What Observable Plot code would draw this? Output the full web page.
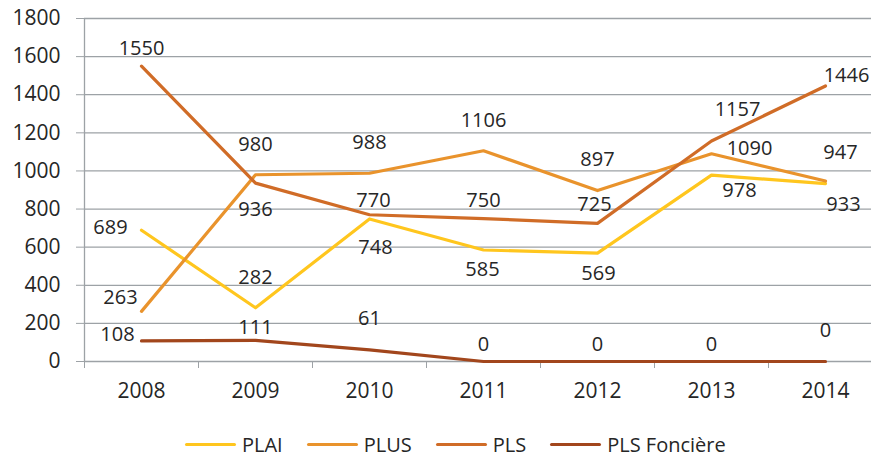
<!DOCTYPE html>
<html>
<head>
<meta charset="utf-8">
<script src="https://cdn.jsdelivr.net/npm/d3@7"></script>
<script src="https://cdn.jsdelivr.net/npm/@observablehq/plot@0.6"></script>
<style>
  html, body { margin: 0; padding: 0; background: #fff; }
  body { width: 871px; height: 459px; overflow: hidden; font-family: "Open Sans", sans-serif; }
  #legend { display: flex; gap: 24px; margin-left: 185px; margin-top: 16px; font-size: 20px; color: #262626; align-items: center; }
  .item { display: flex; align-items: center; gap: 6px; }
  .swatch { width: 51px; height: 3px; border-radius: 2px; }
</style>
</head>
<body>
<div id="chart"></div>
<div id="legend"></div>
<script>
// ---- data ----
const years = [2008, 2009, 2010, 2011, 2012, 2013, 2014];
const seriesNames = ["PLAI", "PLUS", "PLS", "PLS Foncière"];
const plai = [689, 282, 748, 585, 569, 978, 933];
const plus = [263, 980, 988, 1106, 897, 1090, 947];
const pls = [1550, 936, 770, 750, 725, 1157, 1446];
const plsFonciere = [108, 111, 61, 0, 0, 0, 0];
const yTicks = [0, 200, 400, 600, 800, 1000, 1200, 1400, 1600, 1800];

// ---- styling / layout helpers ----
const colors = ["#FFC61E", "#E9932C", "#D06C27", "#A2461C"];
// label offsets in pixels [dx, dy] per point
const labelOffsets = [
  [[-31, -3], [0, -30], [6, 29], [-1, 20], [1, 21], [28, 15], [18, 21]],      // PLAI
  [[-21, -14], [0, -30], [0, -31], [0, -30], [0, -31], [38, -5], [15, -28]], // PLUS
  [[0, -18], [0, 26], [4, -14], [0, -18], [-3, -19], [26, -31], [21, -10]],  // PLS
  [[-24, -6], [0, -13], [0, -31], [0, -17], [0, -17], [0, -17], [0, -31]]    // PLS Foncière
];

const allValues = [plai, plus, pls, plsFonciere];
const rows = allValues.flatMap((vals, s) =>
  vals.map((v, i) => ({ year: years[i], value: v, series: seriesNames[s], s, i }))
);
const boundaries = years.map(y => y - 0.5);

const labelMarks = rows.map(r =>
  Plot.text([r], {
    x: "year", y: "value", text: d => String(d.value),
    dx: labelOffsets[r.s][r.i][0], dy: labelOffsets[r.s][r.i][1],
    fill: "#262626", fontSize: 20
  })
);

const chart = Plot.plot({
  width: 871,
  height: 415,
  marginTop: 18,
  marginBottom: 54,
  marginLeft: 84,
  marginRight: 0,
  style: { fontFamily: "Open Sans, sans-serif", background: "#fff" },
  x: { type: "linear", domain: [years[0] - 0.5, years[years.length - 1] + 0.5], range: [84, 882] },
  y: { domain: [0, 1800] },
  color: { domain: seriesNames, range: colors },
  marks: [
    Plot.ruleY(yTicks, { stroke: "#9da2a6", strokeWidth: 1.3 }),
    Plot.axisY({ ticks: yTicks, tickSize: 8, tickPadding: 16, stroke: "#9da2a6", fill: "#262626", fontSize: 21, tickFormat: d => String(d), label: null }),
    Plot.axisX({ ticks: boundaries, tickSize: 7, stroke: "#9da2a6", tickFormat: () => "", label: null }),
    Plot.axisX({ ticks: years, tickSize: 0, tickPadding: 22, fill: "#262626", fontSize: 21, tickFormat: d => String(d), label: null }),
    Plot.ruleX([boundaries[0]], { y1: 0, y2: 1800, stroke: "#9da2a6", strokeWidth: 1.3 }),
    Plot.line(rows, { x: "year", y: "value", z: "series", stroke: "series", strokeWidth: 3.2, strokeLinejoin: "round" }),
    ...labelMarks
  ]
});
document.getElementById("chart").appendChild(chart);

const legend = document.getElementById("legend");
seriesNames.forEach((name, k) => {
  const item = document.createElement("div");
  item.className = "item";
  const sw = document.createElement("span");
  sw.className = "swatch";
  sw.style.background = colors[k];
  const t = document.createElement("span");
  t.textContent = name;
  item.appendChild(sw);
  item.appendChild(t);
  legend.appendChild(item);
});
</script>
</body>
</html>
